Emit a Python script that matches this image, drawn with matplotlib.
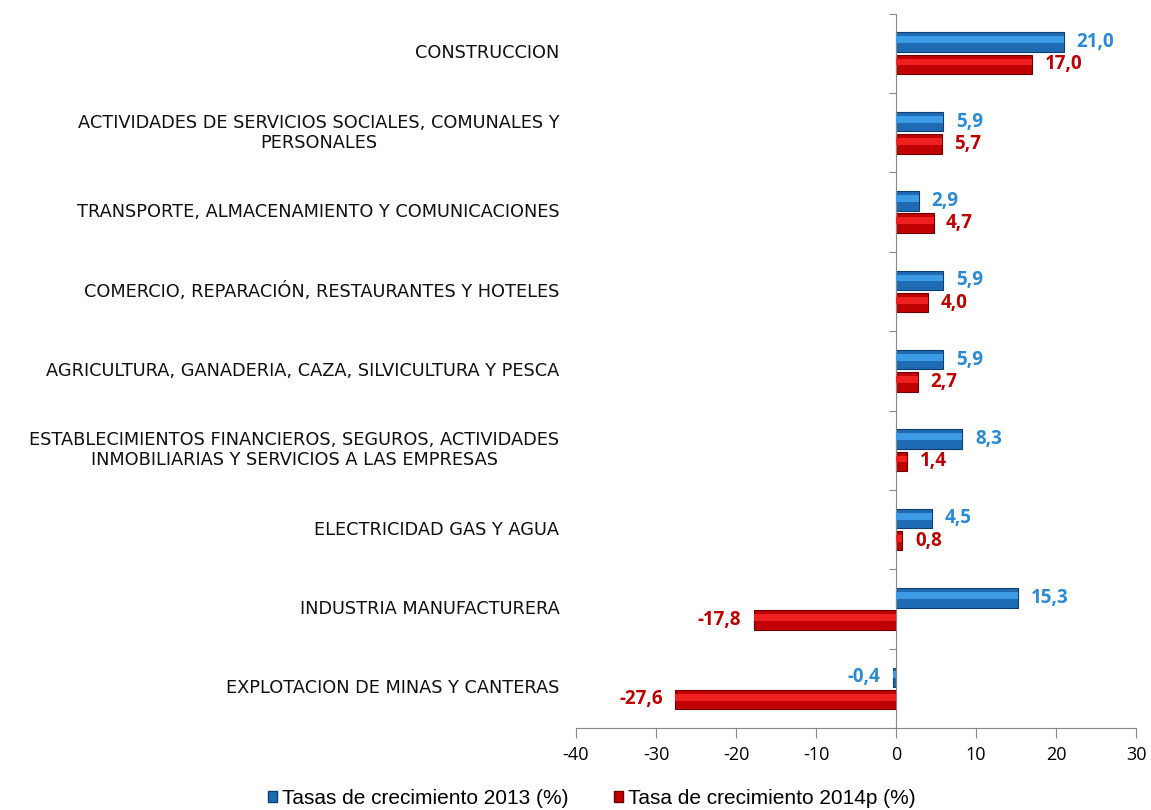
import numpy as np
from matplotlib import pyplot as plt
from matplotlib.patches import Patch

sectors = [
    "CONSTRUCCION",
    "ACTIVIDADES DE SERVICIOS SOCIALES, COMUNALES Y\nPERSONALES",
    "TRANSPORTE, ALMACENAMIENTO Y COMUNICACIONES",
    "COMERCIO, REPARACIÓN, RESTAURANTES Y HOTELES",
    "AGRICULTURA, GANADERIA, CAZA, SILVICULTURA Y PESCA",
    "ESTABLECIMIENTOS FINANCIEROS, SEGUROS, ACTIVIDADES\nINMOBILIARIAS Y SERVICIOS A LAS EMPRESAS",
    "ELECTRICIDAD GAS Y AGUA",
    "INDUSTRIA MANUFACTURERA",
    "EXPLOTACION DE MINAS Y CANTERAS",
]
rate_2013 = [21.0, 5.9, 2.9, 5.9, 5.9, 8.3, 4.5, 15.3, -0.4]
rate_2014 = [17.0, 5.7, 4.7, 4.0, 2.7, 1.4, 0.8, -17.8, -27.6]
x_ticks = [-40, -30, -20, -10, 0, 10, 20, 30]

plt.rcParams['font.family'] = ['Liberation Sans', 'DejaVu Sans']

fig = plt.figure(figsize=(11.51, 8.10), dpi=100)
ax = fig.add_axes([0.5004, 0.1012, 0.4866, 0.882])

n = len(sectors)
y = np.arange(n)
h = 0.245
y_blue = y - 0.14
y_red = y + 0.14

series = [
    (rate_2013, y_blue, "#1f6bb3", "#3d9be6", "#0f3f70", "#2b8ad6"),
    (rate_2014, y_red, "#c00000", "#f02020", "#6e0000", "#c00000"),
]
for vals, pos, base, light, edge, txt in series:
    ax.barh(pos, vals, height=h, color=base, edgecolor=edge, linewidth=0.8, zorder=2)
    ax.barh(pos - h * 0.12, vals, height=h * 0.35, color=light, linewidth=0, zorder=3)
    for v, p in zip(vals, pos):
        lab = f"{v:.1f}".replace(".", ",")
        if v >= 0:
            ax.annotate(lab, (v, p), xytext=(9, 0), textcoords="offset points",
                        ha="left", va="center", color=txt, fontsize=13.5,
                        fontweight="bold", family=["Open Sans", "DejaVu Sans"])
        else:
            ax.annotate(lab, (v, p), xytext=(-9, 0), textcoords="offset points",
                        ha="right", va="center", color=txt, fontsize=13.5,
                        fontweight="bold", family=["Open Sans", "DejaVu Sans"])

for i, name in enumerate(sectors):
    ax.annotate(name, (-40, i), xytext=(-12, 0), textcoords="offset points",
                ha="right", va="center", fontsize=12.8, color="#111111",
                multialignment="center", linespacing=1.15,
                family=["DejaVu Sans"])

ax.set_xlim(-40, 30)
ax.set_ylim(n - 0.5, -0.5)
ax.set_xticks(x_ticks)
ax.set_xticklabels([str(t) for t in x_ticks], fontsize=13,
                   family=["Open Sans", "DejaVu Sans"])
ax.set_yticks(np.arange(n + 1) - 0.5)
ax.set_yticklabels([])

for s in ["top", "right"]:
    ax.spines[s].set_visible(False)
ax.spines["left"].set_position(("data", 0))
ax.spines["left"].set_color("#888888")
ax.spines["bottom"].set_color("#888888")
ax.tick_params(axis="x", length=7, color="#888888", pad=6)
ax.tick_params(axis="y", length=5, color="#888888")

handles = [Patch(facecolor="#1f6bb3", edgecolor="#0f3f70"),
           Patch(facecolor="#c00000", edgecolor="#6e0000")]
fig.legend(handles, ["Tasas de crecimiento 2013 (%)", "Tasa de crecimiento 2014p (%)"],
           loc="center", bbox_to_anchor=(0.514, 0.014), ncol=2, frameon=False,
           fontsize=15, handlelength=0.45, handleheight=0.45, handletextpad=0.2,
           columnspacing=2.2)

fig.savefig("out.png", dpi=100)
